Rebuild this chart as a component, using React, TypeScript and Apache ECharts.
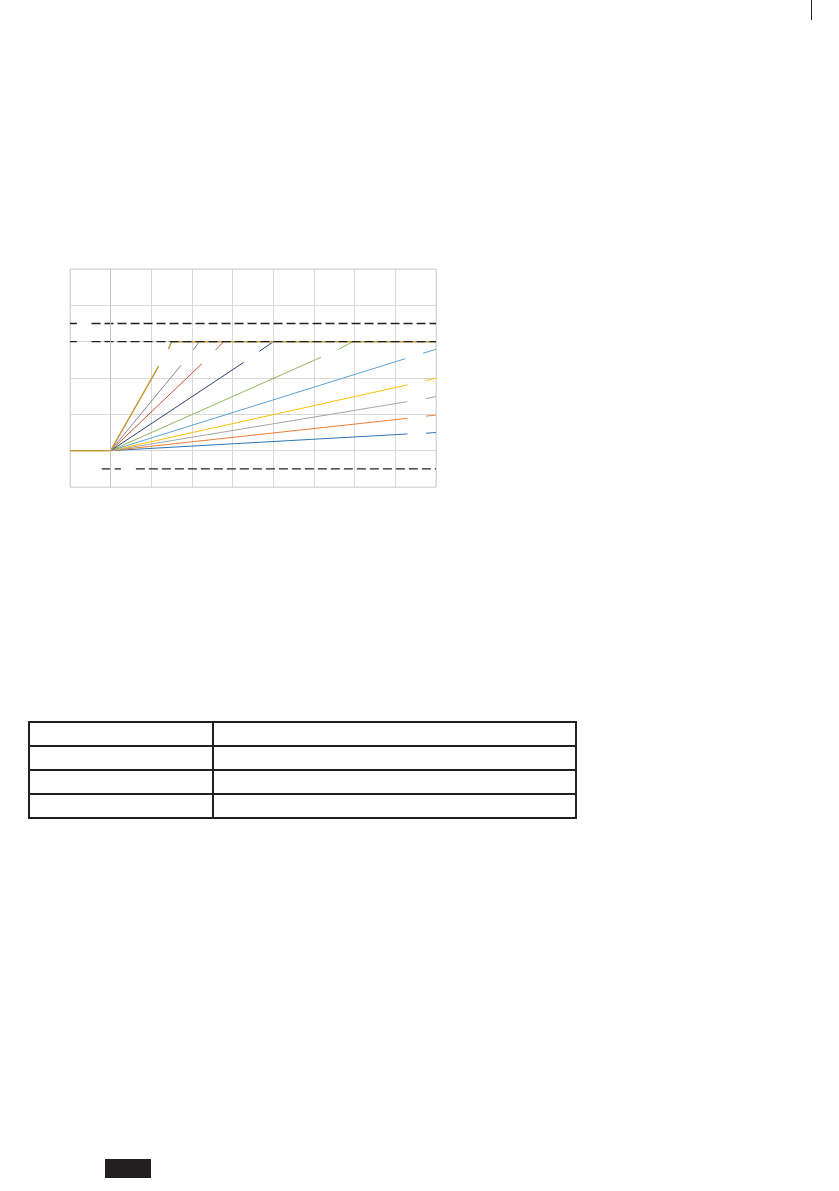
import React, { useEffect, useRef } from 'react';
import * as echarts from 'echarts';

// x ticks 0..9, y ticks 0..6 (no labels in the picture)
const xTicks = [0, 1, 2, 3, 4, 5, 6, 7, 8, 9];
const yTicks = [0, 1, 2, 3, 4, 5, 6];

// flat part before the fan
const baseLine: [number, number][] = [[0, 1], [1, 1]];

// each curve: first piece from the origin, a gap (removed label), then the rest
const curveBrown = [[1, 1], [2.18, 3.33], null, [2.42, 3.79], [2.5, 4], [9, 4]];
const curveSlate = [[1, 1], [2.73, 3.35], null, [3.03, 3.77], [3.18, 4]];
const curveRust = [[1, 1], [3.24, 3.39], null, [3.58, 3.77], [3.78, 4]];
const curveNavy = [[1, 1], [4.27, 3.43], null, [4.65, 3.73], [5, 4]];
const curveGreen = [[1, 1], [6.17, 3.57], null, [6.6, 3.79], [6.96, 4]];
const curveSky = [[1, 1], [8.24, 3.53], null, [8.68, 3.68], [9, 3.79]];
const curveYellow = [[1, 1], [8.3, 2.81], null, [8.75, 2.93], [9, 3]];
const curveGrey = [[1, 1], [8.3, 2.35], null, [8.75, 2.43], [9, 2.49]];
const curveOrange = [[1, 1], [8.3, 1.89], null, [8.75, 1.95], [9, 1.98]];
const curveBlue = [[1, 1], [8.3, 1.46], null, [8.75, 1.48], [9, 1.5]];

// dashed limit lines
const limitHigh = [[0, 4.5], [0.17, 4.5], null, [0.53, 4.5], [9, 4.5]];
const limitMid = [[0, 4], [0.17, 4], null, [0.53, 4], [9, 4]];
const limitLow = [[0.78, 0.5], [1.25, 0.5], null, [1.62, 0.5], [9, 0.5]];

const curves = [
  { data: curveBlue, color: '#2E75B6' },
  { data: curveOrange, color: '#ED7D31' },
  { data: curveGrey, color: '#A5A5A5' },
  { data: curveYellow, color: '#FFC000' },
  { data: curveSky, color: '#5BA3D5' },
  { data: curveGreen, color: '#8CB85A' },
  { data: curveNavy, color: '#2F3F66' },
  { data: curveRust, color: '#C9502A' },
  { data: curveSlate, color: '#7F8494' },
];

function FanChart() {
  const ref = useRef<HTMLDivElement>(null);

  useEffect(() => {
    const chart = echarts.init(ref.current!, undefined, { renderer: 'svg' });

    const line = (data: any[], color: string, width = 1, type: any = 'solid') => ({
      type: 'line',
      data,
      symbol: 'none',
      connectNulls: false,
      silent: true,
      lineStyle: { color, width, type },
      z: 3,
    });

    const dash = [9, 4];

    chart.setOption({
      animation: false,
      grid: { left: 10, top: 10, width: 366, height: 218, show: true, borderColor: '#D9D9D9', borderWidth: 1 },
      xAxis: {
        type: 'value',
        min: xTicks[0],
        max: xTicks[xTicks.length - 1],
        interval: 1,
        axisLine: { show: false },
        axisTick: { show: false },
        axisLabel: { show: false },
        splitLine: { lineStyle: { color: '#D9D9D9', width: 1 } },
      },
      yAxis: {
        type: 'value',
        min: yTicks[0],
        max: yTicks[yTicks.length - 1],
        interval: 1,
        axisLine: { show: false },
        axisTick: { show: false },
        axisLabel: { show: false },
        splitLine: { lineStyle: { color: '#D9D9D9', width: 1 } },
      },
      series: [
        {
          ...line(baseLine, '#C49A3C', 1.5),
          markLine: {
            silent: true,
            symbol: 'none',
            label: { show: false },
            lineStyle: { color: '#C4C4C4', width: 1, type: 'solid' },
            data: [{ xAxis: 1 }],
          },
        },
        ...curves.map((c) => line(c.data, c.color)),
        line(curveBrown, '#C49A3C', 1.5),
        line(limitHigh, '#231F20', 1.3, dash),
        line(limitMid, '#231F20', 1.3, dash),
        line(limitLow, '#231F20', 1.3, dash),
      ],
    });

    return () => chart.dispose();
  }, []);

  return <div ref={ref} style={{ position: 'absolute', left: 60, top: 259, width: 390, height: 240 }} />;
}

const cell: React.CSSProperties = { border: '2px solid #231F20', height: 22, padding: 0, boxSizing: 'border-box' };

export default function App() {
  return (
    <div style={{ position: 'absolute', left: 0, top: 0, width: 839, height: 1191, background: '#fff', overflow: 'hidden' }}>
      <div style={{ position: 'absolute', left: 811, top: 0, width: 1, height: 20, background: '#231F20' }} />
      <FanChart />
      <table
        style={{
          position: 'absolute',
          left: 28,
          top: 721,
          width: 549,
          borderCollapse: 'collapse',
          tableLayout: 'fixed',
        }}
      >
        <tbody>
          {[0, 1, 2, 3].map((r) => (
            <tr key={r} style={{ height: 24 }}>
              <td style={{ ...cell, width: 184 }} />
              <td style={cell} />
            </tr>
          ))}
        </tbody>
      </table>
      <div style={{ position: 'absolute', left: 105, top: 1159, width: 46, height: 19, background: '#231F20' }} />
    </div>
  );
}
